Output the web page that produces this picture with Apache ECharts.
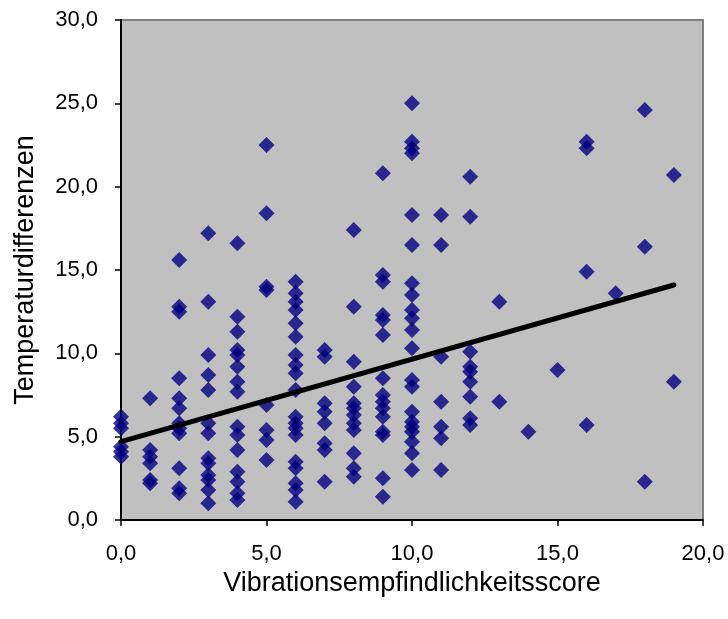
<!DOCTYPE html>
<html>
<head>
<meta charset="utf-8">
<script src="https://cdn.jsdelivr.net/npm/echarts@6/dist/echarts.min.js"></script>
<style>
html,body{margin:0;padding:0;background:#fff;}
#c{width:728px;height:619px;}
</style>
</head>
<body>
<div id="c"></div>
<script>
// Vibration sensitivity scores (x) and the temperature differences observed at each score (y)
const scores = [0,1,2,3,4,5,6,7,8,9,10,11,12,13,14,15,16,17,18,19];
const tempAt0  = [6.2, 5.8, 5.5, 4.4, 4.1, 3.8];
const tempAt1  = [7.3, 4.2, 3.8, 3.4, 2.4, 2.2];
const tempAt2  = [15.6, 12.8, 12.5, 8.5, 7.3, 6.7, 5.8, 5.5, 5.2, 3.1, 1.9, 1.6];
const tempAt3  = [17.2, 13.1, 9.9, 8.7, 7.8, 5.8, 5.2, 3.7, 3.4, 2.7, 2.4, 1.8, 1.0];
const tempAt4  = [16.6, 12.2, 11.3, 10.2, 9.9, 9.2, 8.3, 7.7, 5.6, 5.1, 4.2, 2.9, 2.3, 1.6, 1.2];
const tempAt5  = [22.5, 18.4, 14.0, 13.8, 6.9, 5.4, 4.8, 3.6];
const tempAt6  = [14.3, 13.6, 13.1, 12.6, 11.8, 11.0, 9.9, 9.3, 8.8, 7.8, 6.2, 5.8, 5.5, 5.1, 3.5, 3.1, 2.2, 1.8, 1.1];
const tempAt7  = [10.2, 9.8, 7.0, 6.5, 5.8, 4.6, 4.2, 2.3];
const tempAt8  = [17.4, 12.8, 9.5, 8.0, 7.0, 6.7, 6.3, 5.8, 5.4, 4.0, 3.1, 2.6];
const tempAt9  = [20.8, 14.7, 14.3, 12.3, 12.0, 11.1, 8.5, 7.5, 7.1, 6.7, 6.2, 5.3, 5.1, 2.5, 1.4];
const tempAt10 = [25.0, 22.7, 22.3, 22.0, 18.3, 16.5, 14.2, 13.5, 12.6, 12.1, 11.4, 10.3, 8.4, 8.0, 6.5, 5.9, 5.6, 5.3, 4.7, 4.0, 3.0];
const tempAt11 = [18.3, 16.5, 9.8, 7.1, 5.6, 4.9, 3.0];
const tempAt12 = [20.6, 18.2, 10.1, 9.2, 8.9, 8.3, 7.4, 6.1, 5.7];
const tempAt13 = [13.1, 7.1];
const tempAt14 = [5.3];
const tempAt15 = [9.0];
const tempAt16 = [22.7, 22.3, 14.9, 5.7];
const tempAt17 = [13.6];
const tempAt18 = [24.6, 16.4, 2.3];
const tempAt19 = [20.7, 8.3];
const tempByScore = [tempAt0,tempAt1,tempAt2,tempAt3,tempAt4,tempAt5,tempAt6,tempAt7,tempAt8,tempAt9,
  tempAt10,tempAt11,tempAt12,tempAt13,tempAt14,tempAt15,tempAt16,tempAt17,tempAt18,tempAt19];
// Linear trend line end points (score, temperature difference)
const trendX = [0, 19];
const trendY = [4.7, 14.1];
// Axis ranges / ticks
const xTicks = [0, 5, 10, 15, 20];
const yTicks = [0, 5, 10, 15, 20, 25, 30];
const xTitle = 'Vibrationsempfindlichkeitsscore';
const yTitle = 'Temperaturdifferenzen';

const points = [];
scores.forEach((s, i) => tempByScore[i].forEach(v => points.push([s, v])));
const trend = trendX.map((x, i) => [x, trendY[i]]);

const FONT = "'Liberation Sans', Arial, sans-serif";
const fmt = v => v.toFixed(1).replace('.', ',');

const chart = echarts.init(document.getElementById('c'), null, {renderer: 'canvas'});
chart.setOption({
  animation: false,
  backgroundColor: '#ffffff',
  grid: {
    left: 121, right: 25, top: 20, bottom: 99,
    show: true, backgroundColor: '#C0C0C0', borderColor: '#808080', borderWidth: 2
  },
  xAxis: {
    type: 'value',
    min: xTicks[0], max: xTicks[xTicks.length - 1], interval: xTicks[1] - xTicks[0],
    name: xTitle, nameLocation: 'middle', nameGap: 46,
    nameTextStyle: {fontFamily: FONT, fontSize: 27, color: '#000'},
    axisLine: {onZero: false, lineStyle: {color: '#000', width: 2}},
    axisTick: {show: true, inside: false, length: 6, lineStyle: {color: '#000', width: 1.5}},
    axisLabel: {formatter: fmt, fontFamily: FONT, fontSize: 22, color: '#000', margin: 23},
    splitLine: {show: false}
  },
  yAxis: {
    type: 'value',
    min: yTicks[0], max: yTicks[yTicks.length - 1], interval: yTicks[1] - yTicks[0],
    name: yTitle, nameLocation: 'middle', nameGap: 82, nameRotate: 90,
    nameTextStyle: {fontFamily: FONT, fontSize: 27, color: '#000'},
    axisLine: {onZero: false, lineStyle: {color: '#000', width: 2}},
    axisTick: {show: true, inside: false, length: 6, lineStyle: {color: '#000', width: 1.5}},
    axisLabel: {formatter: fmt, fontFamily: FONT, fontSize: 22, color: '#000', margin: 23},
    splitLine: {show: false}
  },
  series: [
    {
      type: 'scatter',
      data: points,
      symbol: 'diamond',
      symbolSize: 16,
      clip: false,
      itemStyle: {color: '#000080'},
      z: 3
    },
    {
      type: 'line',
      data: trend,
      symbol: 'none',
      lineStyle: {color: '#000', width: 5, cap: 'round'},
      z: 4
    }
  ]
});
</script>
</body>
</html>
